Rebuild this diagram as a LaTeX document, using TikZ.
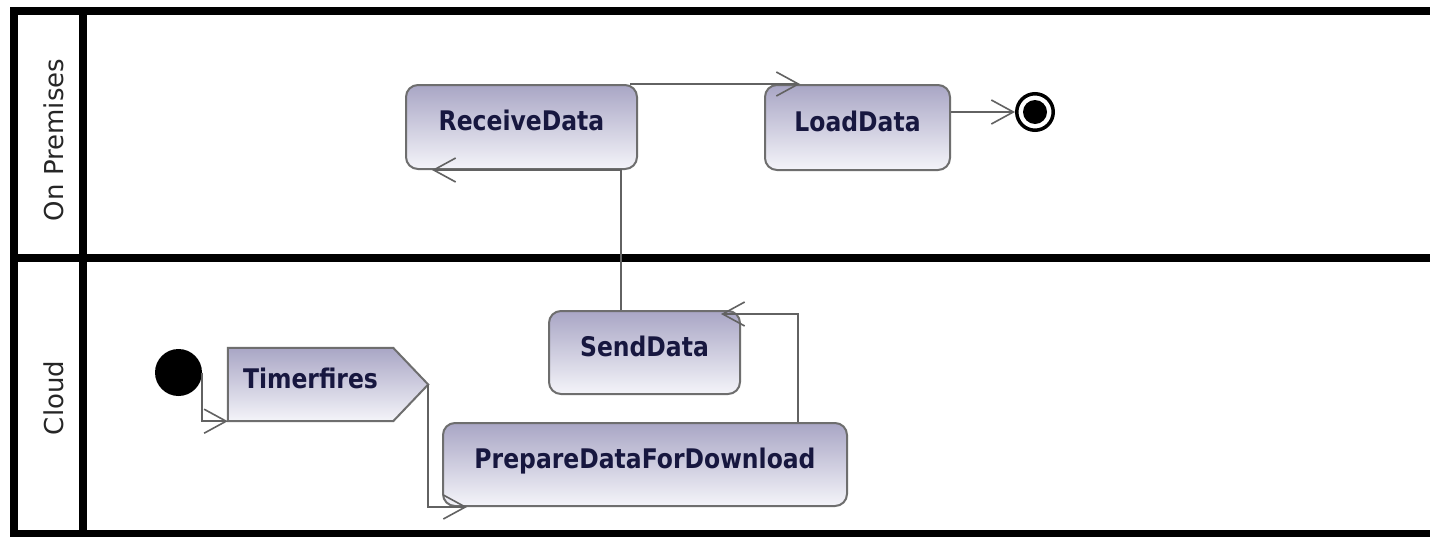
\documentclass[tikz,border=0pt]{standalone}
\usepackage{fontspec}
\usetikzlibrary{arrows.meta,calc,backgrounds}

\newfontfamily\actfont[FakeStretch=0.87]{DejaVu Sans}
\newfontfamily\lanefont{DejaVu Sans}

\definecolor{actTop}{HTML}{A9A6C5}
\definecolor{actBot}{HTML}{F4F4F9}
\definecolor{actLine}{HTML}{6E6E6E}
\definecolor{actText}{HTML}{17173F}
\definecolor{flowLine}{HTML}{626262}

\begin{document}
\begin{tikzpicture}[x=1pt,y=-1pt,
  lane/.style={line width=8pt, draw=black},
  actionbox/.style={draw=actLine, line width=2pt, rounded corners=12pt,
    top color=actTop, bottom color=actBot,
    font=\actfont\bfseries\fontsize{27}{32}\selectfont, text=actText,
    text height=0.73em, text depth=0pt, inner sep=0pt},
  signaltext/.style={font=\actfont\bfseries\fontsize{27}{32}\selectfont,
    text=actText, text height=0.73em, text depth=0pt, inner sep=0pt},
  flow/.style={draw=flowLine, line width=1.6pt,
    -{Straight Barb[length=22pt,width=24pt]}},
  lanelabel/.style={font=\lanefont\fontsize{26}{30}\selectfont,
    text=black!85, rotate=90, inner sep=0pt}
]
\useasboundingbox (0,0) rectangle (1430,536);
\begin{scope}[on background layer]
  \fill[white] (0,0) rectangle (1430,536);
\end{scope}

% swimlane frame
\draw[lane] (1440,10.5) -- (13.5,10.5) -- (13.5,540);
\draw[lane] (82.5,10.5) -- (82.5,540);
\draw[lane] (13.5,257.5) -- (1440,257.5);
\draw[lane] (13.5,534) -- (1440,534);

% lane titles
\node[lanelabel] (lanePrem) at (54,140) {On Premises};
\node[lanelabel] (laneCloud) at (54,398) {Cloud};

% actions
\node[actionbox, minimum width=231pt, minimum height=84pt] (recv) at (521.5,127) {ReceiveData};
\node[actionbox, minimum width=185pt, minimum height=85pt] (load) at (857.5,127.5) {LoadData};
\node[actionbox, minimum width=191pt, minimum height=83pt] (send) at (644.5,352.5) {SendData};
\node[actionbox, minimum width=404pt, minimum height=83pt] (prep) at (645,464.5) {PrepareDataForDownload};

% send-signal action
\node[signaltext, minimum width=165pt, minimum height=73pt] (timer) at (310.5,384.5) {Timerfires};
\coordinate (timerTip) at ($(timer.east)+(35,0)$);
\begin{scope}[on background layer]
  \path[draw=actLine, line width=2pt, top color=actTop, bottom color=actBot]
    (timer.north west) -- (timer.north east) -- (timerTip)
    -- (timer.south east) -- (timer.south west) -- cycle;
\end{scope}

% initial and final nodes
\node[circle, fill=black, minimum size=47pt, inner sep=0pt] (init) at (178.5,372.5) {};
\node[circle, draw=black, line width=3.5pt, minimum size=36.5pt, inner sep=0pt,
  path picture={\fill[black] (path picture bounding box.center) circle (12pt);}]
  (final) at (1035,112) {};

% control flows
\draw[flow] (init.east) |- (timer.south west);
\draw[flow] (timerTip) |- ($(prep.south west)+(25,0)$);
\draw[flow] ($(prep.north east)+(-50,0)$) |- ($(send.north east)+(-20,4)$);
\draw[flow] ($(send.north west)+(73,0)$) |- ($(recv.south west)+(27,0)$);
\draw[flow] ($(recv.north east)+(-8,0)$) -- ($(load.north west)+(36,0)$);
\draw[flow] (load.east |- final) -- (final.west);
\end{tikzpicture}
\end{document}
